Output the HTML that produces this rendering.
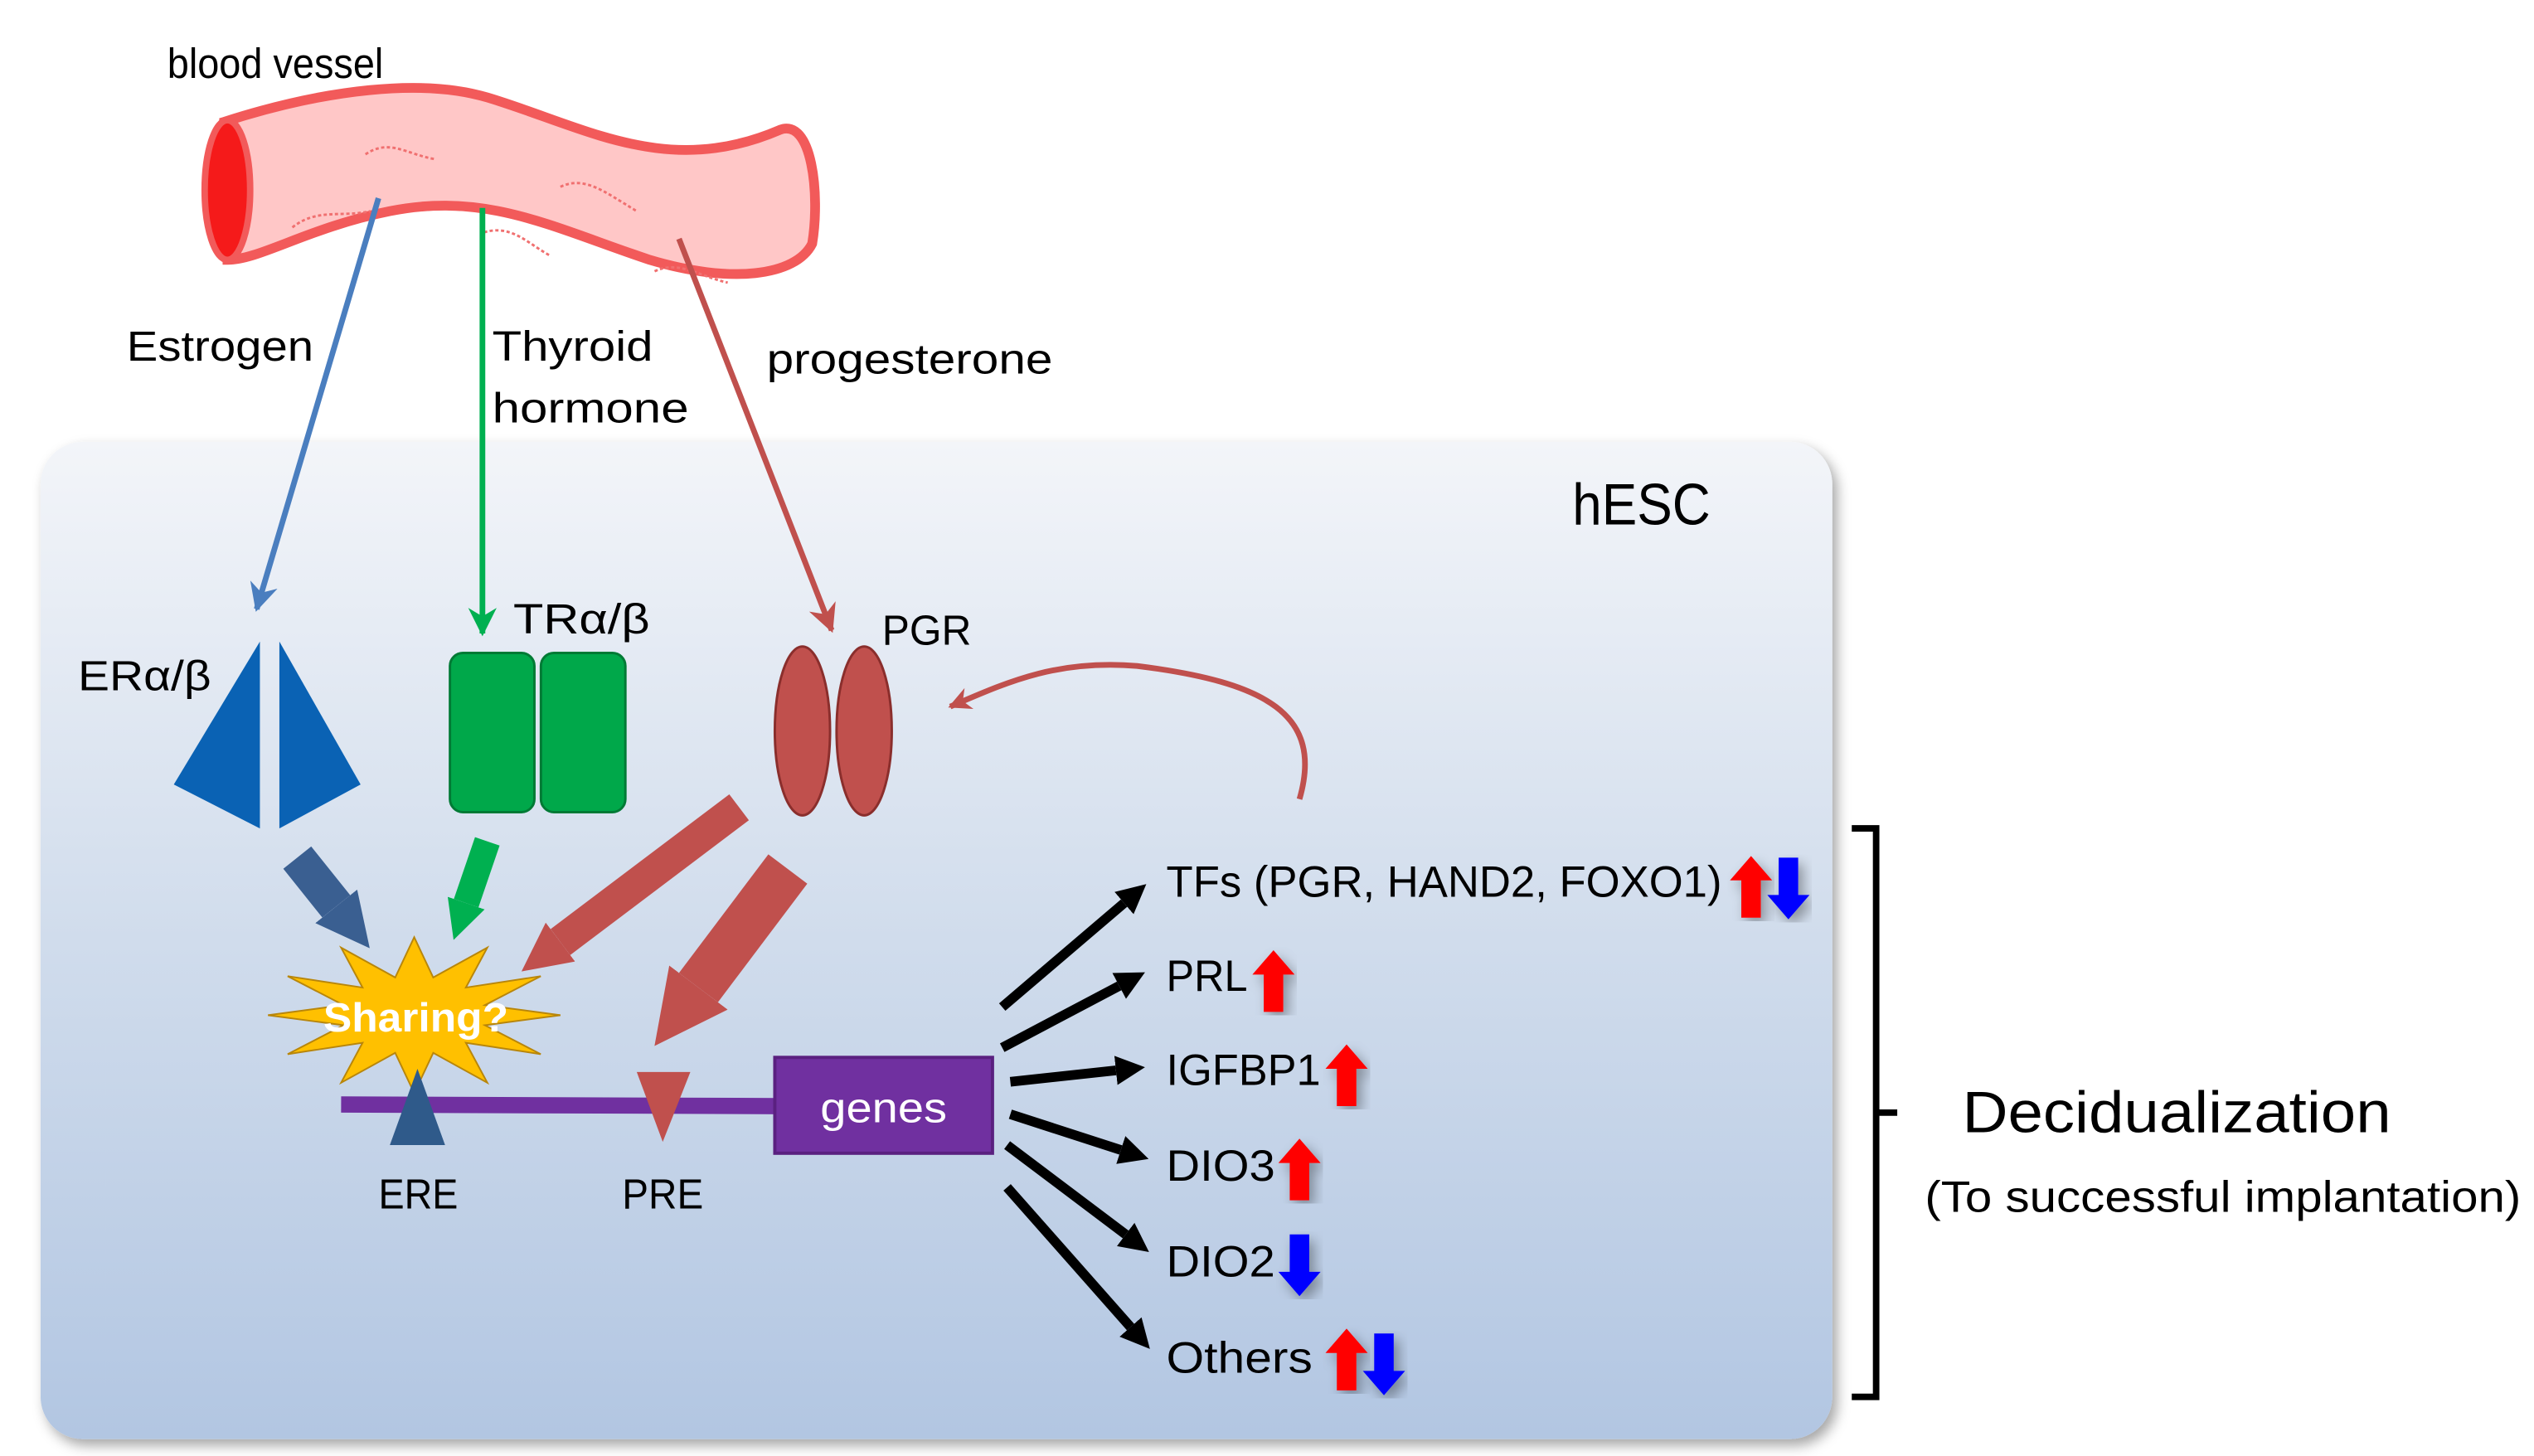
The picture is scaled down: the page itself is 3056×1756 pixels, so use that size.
<!DOCTYPE html>
<html><head><meta charset="utf-8"><style>
html,body{margin:0;padding:0;background:#fff;}
svg{display:block;}
text{font-family:"Liberation Sans",sans-serif;fill:#000;}
</style></head><body>
<svg width="3056" height="1756" viewBox="0 0 1560 896.4" preserveAspectRatio="none" xmlns="http://www.w3.org/2000/svg">
<defs>
<linearGradient id="cell" x1="0" y1="0" x2="0" y2="1">
<stop offset="0" stop-color="#f3f5f9"/><stop offset="0.5" stop-color="#d0dcec"/><stop offset="1" stop-color="#b2c6e2"/>
</linearGradient>
<filter id="sh" x="-5%" y="-5%" width="110%" height="110%"><feDropShadow dx="3" dy="4" stdDeviation="4" flood-color="#000" flood-opacity="0.35"/></filter>
<marker id="hk" viewBox="0 0 10 10" refX="0" refY="5" markerWidth="3" markerHeight="3.4" orient="auto" markerUnits="strokeWidth"><path d="M0,0 L10,5 L0,10z" fill="#000"/></marker>
<marker id="hf" viewBox="0 0 10 10" refX="0" refY="5" markerWidth="1.5" markerHeight="2" orient="auto" markerUnits="strokeWidth"><path d="M0,0 L10,5 L0,10z" fill="context-stroke"/></marker>
<marker id="hb" viewBox="0 0 10 10" refX="0" refY="5" markerWidth="1.5" markerHeight="2" orient="auto" markerUnits="strokeWidth"><path d="M0,0 L10,5 L0,10z" fill="#3a5f91"/></marker>
<marker id="hg" viewBox="0 0 10 10" refX="0" refY="5" markerWidth="1.5" markerHeight="2.2" orient="auto" markerUnits="strokeWidth"><path d="M0,0 L10,5 L0,10z" fill="#00b050"/></marker>
<marker id="hr" viewBox="0 0 10 10" refX="0" refY="5" markerWidth="1.5" markerHeight="2" orient="auto" markerUnits="strokeWidth"><path d="M0,0 L10,5 L0,10z" fill="#c0504d"/></marker>
<marker id="tb" viewBox="0 0 10 10" refX="9" refY="5" markerWidth="5" markerHeight="5" orient="auto" markerUnits="strokeWidth"><path d="M0,0 L10,5 L0,10 L3,5z" fill="#4a7ebf"/></marker>
<marker id="tg" viewBox="0 0 10 10" refX="9" refY="5" markerWidth="5" markerHeight="5" orient="auto" markerUnits="strokeWidth"><path d="M0,0 L10,5 L0,10 L3,5z" fill="#00b050"/></marker>
<marker id="tr" viewBox="0 0 10 10" refX="9" refY="5" markerWidth="5" markerHeight="5" orient="auto" markerUnits="strokeWidth"><path d="M0,0 L10,5 L0,10 L3,5z" fill="#c0504d"/></marker>
<marker id="tr2" viewBox="0 0 10 10" refX="9" refY="5" markerWidth="4" markerHeight="4" orient="auto" markerUnits="strokeWidth"><path d="M0,0 L10,5 L0,10 L3,5z" fill="#c0504d"/></marker>
<g id="up" filter="url(#sh)"><path d="M0,0 L13,15 L6,15 L6,38 L-6,38 L-6,15 L-13,15z" fill="#ff0000"/></g>
<g id="dn" filter="url(#sh)"><path d="M0,38 L13,23 L6,23 L6,0 L-6,0 L-6,23 L-13,23z" fill="#0000ff"/></g>
</defs>

<!-- cell -->
<rect x="25" y="272" width="1103" height="614" rx="26" fill="url(#cell)" filter="url(#sh)"/>

<!-- blood vessel -->
<path d="M138,75 C200,55 260,48 300,60 C360,78 410,110 480,80 C500,72 505,120 500,150 C490,170 450,175 400,160 C340,140 300,118 240,130 C190,140 160,160 140,160 Z" fill="#ffc7c7" stroke="#f25a5a" stroke-width="6"/>
<ellipse cx="140" cy="117" rx="14" ry="43" fill="#f51a1a" stroke="#f25a5a" stroke-width="4"/>
<g fill="none" stroke="#f07070" stroke-width="1.5" stroke-dasharray="2 1.5">
<path d="M225,95 C240,85 250,95 268,98"/><path d="M180,140 C195,128 210,134 228,130"/><path d="M345,115 C360,108 372,118 392,130"/><path d="M298,143 C315,138 325,150 338,157"/><path d="M403,167 C418,160 430,170 448,174"/>
</g>

<!-- hormone arrows -->
<line x1="233" y1="122" x2="158" y2="375" stroke="#4a7ebf" stroke-width="3.5" marker-end="url(#tb)"/>
<line x1="297" y1="128" x2="297" y2="390" stroke="#00b050" stroke-width="3.5" marker-end="url(#tg)"/>
<line x1="418" y1="147" x2="512" y2="388" stroke="#c0504d" stroke-width="3.5" marker-end="url(#tr)"/>

<!-- ER -->
<path d="M160,395 L107,483 L160,510z" fill="#0a62b4"/>
<path d="M172,395 L222,483 L172,510z" fill="#0a62b4"/>
<!-- TR -->
<rect x="277" y="402" width="52" height="98" rx="8" fill="#00a84a" stroke="#007a35" stroke-width="1.5"/>
<rect x="333" y="402" width="52" height="98" rx="8" fill="#00a84a" stroke="#007a35" stroke-width="1.5"/>
<!-- PGR -->
<ellipse cx="494" cy="450" rx="17" ry="52" fill="#c0504d" stroke="#8a2e2c" stroke-width="1.5"/>
<ellipse cx="532" cy="450" rx="17" ry="52" fill="#c0504d" stroke="#8a2e2c" stroke-width="1.5"/>
<!-- feedback -->
<path d="M800,492 C815,440 780,420 700,410 C650,406 620,420 585,435" fill="none" stroke="#c0504d" stroke-width="3.5" marker-end="url(#tr2)"/>

<!-- fat arrows -->
<line x1="183" y1="528" x2="207" y2="558" stroke="#3a5f91" stroke-width="22" marker-end="url(#hb)"/>
<line x1="300" y1="518" x2="287" y2="556" stroke="#00b050" stroke-width="16" marker-end="url(#hg)"/>
<line x1="455" y1="497" x2="345" y2="580" stroke="#c0504d" stroke-width="20" marker-end="url(#hr)"/>
<line x1="485" y1="535" x2="430" y2="608" stroke="#c0504d" stroke-width="30" marker-end="url(#hr)"/>

<!-- star -->
<polygon points="345,625 298.5,631.2 332.9,649 286.8,642 300,666.6 266.7,648.2 255,673 243.3,648.2 210,666.6 223.2,642 177.1,649 211.5,631.2 165,625 211.5,618.8 177.1,601 223.2,608 210,583.4 243.3,601.8 255,577 266.7,601.8 300,583.4 286.8,608 332.9,601 298.5,618.8" fill="#ffc000" stroke="#b8860b" stroke-width="1"/>
<text x="199" y="635" font-size="25" font-weight="bold" style="fill:#fff" textLength="114" lengthAdjust="spacingAndGlyphs">Sharing?</text>

<!-- DNA -->
<line x1="210" y1="680" x2="480" y2="681" stroke="#7030a0" stroke-width="10"/>
<path d="M257,658 L240,705 L274,705z" fill="#2f5a8a"/>
<path d="M392,660 L425,660 L408,703z" fill="#c0504d"/>
<rect x="477" y="651" width="134" height="59" fill="#7030a0" stroke="#5a2080" stroke-width="2"/>
<text x="505" y="691" font-size="26" style="fill:#fff" textLength="78" lengthAdjust="spacingAndGlyphs">genes</text>

<!-- black arrows -->
<g stroke="#000" stroke-width="6" marker-end="url(#hk)">
<line x1="617" y1="620" x2="692" y2="556"/>
<line x1="617" y1="645" x2="689" y2="607"/>
<line x1="622" y1="666" x2="687" y2="659"/>
<line x1="622" y1="686" x2="690" y2="708"/>
<line x1="620" y1="705" x2="693" y2="760"/>
<line x1="620" y1="731" x2="696" y2="817"/>
</g>

<!-- labels -->
<text x="103" y="48" font-size="26" textLength="133" lengthAdjust="spacingAndGlyphs">blood vessel</text>
<text x="78" y="222" font-size="26" textLength="115" lengthAdjust="spacingAndGlyphs">Estrogen</text>
<text x="303" y="222" font-size="26" textLength="99" lengthAdjust="spacingAndGlyphs">Thyroid</text>
<text x="303" y="260" font-size="26" textLength="121" lengthAdjust="spacingAndGlyphs">hormone</text>
<text x="472" y="230" font-size="26" textLength="176" lengthAdjust="spacingAndGlyphs">progesterone</text>
<text x="968" y="323" font-size="36" textLength="85" lengthAdjust="spacingAndGlyphs">hESC</text>
<text x="48" y="425" font-size="26" textLength="82" lengthAdjust="spacingAndGlyphs">ERα/β</text>
<text x="316" y="390" font-size="26" textLength="84" lengthAdjust="spacingAndGlyphs">TRα/β</text>
<text x="543" y="397" font-size="26" textLength="55" lengthAdjust="spacingAndGlyphs">PGR</text>
<text x="233" y="744" font-size="26" textLength="49" lengthAdjust="spacingAndGlyphs">ERE</text>
<text x="383" y="744" font-size="26" textLength="50" lengthAdjust="spacingAndGlyphs">PRE</text>
<text x="718" y="552" font-size="27" textLength="342" lengthAdjust="spacingAndGlyphs">TFs (PGR, HAND2, FOXO1)</text>
<text x="718" y="610" font-size="27" textLength="50" lengthAdjust="spacingAndGlyphs">PRL</text>
<text x="718" y="668" font-size="27" textLength="95" lengthAdjust="spacingAndGlyphs">IGFBP1</text>
<text x="718" y="727" font-size="27" textLength="67" lengthAdjust="spacingAndGlyphs">DIO3</text>
<text x="718" y="786" font-size="27" textLength="67" lengthAdjust="spacingAndGlyphs">DIO2</text>
<text x="718" y="845" font-size="27" textLength="90" lengthAdjust="spacingAndGlyphs">Others</text>

<!-- up/down -->
<use href="#up" x="1078" y="527"/><use href="#dn" x="1101" y="528"/>
<use href="#up" x="784" y="585"/>
<use href="#up" x="829" y="643"/>
<use href="#up" x="800" y="701"/>
<use href="#dn" x="800" y="760"/>
<use href="#up" x="829" y="818"/><use href="#dn" x="852" y="821"/>

<!-- bracket -->
<path d="M1140,510 L1155,510 L1155,860 L1140,860 M1155,685 L1168,685" fill="none" stroke="#000" stroke-width="4"/>
<text x="1208" y="697" font-size="36" textLength="264" lengthAdjust="spacingAndGlyphs">Decidualization</text>
<text x="1185" y="746" font-size="27" textLength="367" lengthAdjust="spacingAndGlyphs">(To successful implantation)</text>
</svg>
</body></html>
